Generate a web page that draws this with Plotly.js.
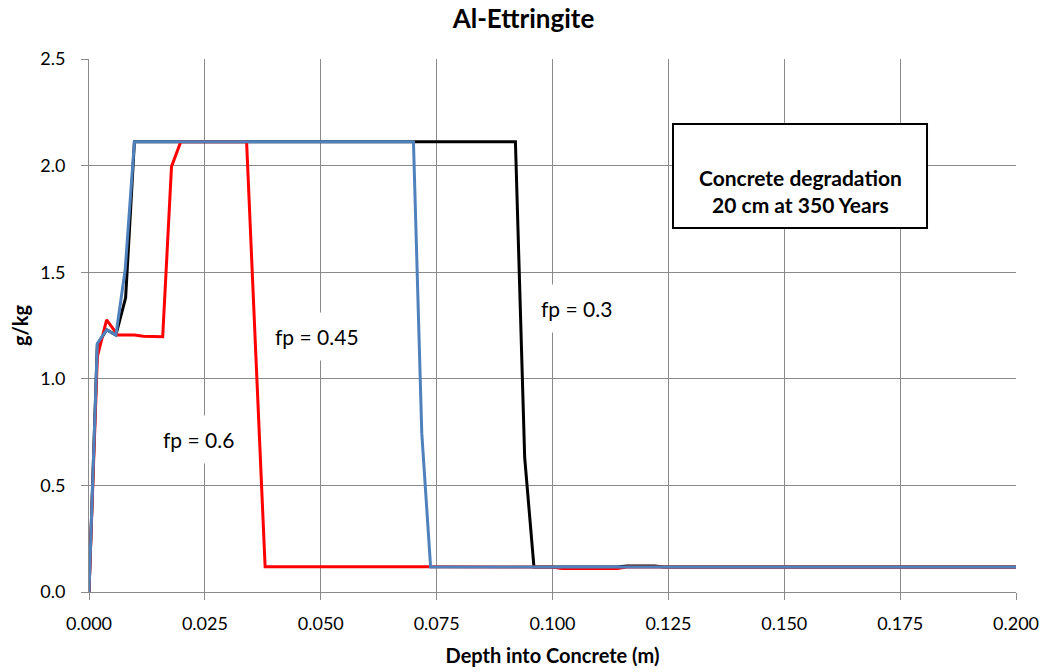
<!DOCTYPE html>
<html><head><meta charset="utf-8">
<script src="https://cdn.plot.ly/plotly-3.0.1.min.js"></script>
<style>html,body{margin:0;padding:0;background:#fff}#chart{width:1047px;height:672px}</style>
</head><body><div id="chart"></div>
<script>
// fp = 0.3
const depth03 = [0, 0.0018, 0.0038, 0.0058, 0.0079, 0.0098, 0.092, 0.094, 0.096, 0.100, 0.114, 0.116, 0.122, 0.124, 0.200];
const conc03  = [0, 1.16, 1.23, 1.205, 1.38, 2.112, 2.112, 0.63, 0.117, 0.117, 0.117, 0.122, 0.122, 0.117, 0.117];
// fp = 0.45
const depth045 = [0, 0.0018, 0.0038, 0.0058, 0.0078, 0.0098, 0.070, 0.0718, 0.0737, 0.100, 0.200];
const conc045  = [0, 1.166, 1.229, 1.205, 1.51, 2.112, 2.112, 0.744, 0.117, 0.117, 0.117];
// fp = 0.6
const depth06 = [0, 0.0018, 0.0038, 0.0062, 0.0098, 0.0117, 0.0159, 0.0178, 0.0198, 0.034, 0.036, 0.038, 0.074, 0.100, 0.102, 0.114, 0.116, 0.200];
const conc06  = [0, 1.104, 1.276, 1.205, 1.205, 1.20, 1.197, 1.995, 2.112, 2.112, 1.11, 0.118, 0.118, 0.117, 0.110, 0.110, 0.117, 0.117];

const xTicks = [0, 0.025, 0.05, 0.075, 0.1, 0.125, 0.15, 0.175, 0.2];
const xTickLabels = ["0.000","0.025","0.050","0.075","0.100","0.125","0.150","0.175","0.200"];
const yTicks = [0, 0.5, 1.0, 1.5, 2.0, 2.5];
const yTickLabels = ["0.0","0.5","1.0","1.5","2.0","2.5"];

const FONT = 'Lato, "Open Sans", sans-serif';
const traces = [
  {x: depth03, y: conc03, mode:'lines', name:'fp = 0.3', line:{color:'#000000', width:3}},
  {x: depth06, y: conc06, mode:'lines', name:'fp = 0.6', line:{color:'#FF0000', width:3}},
  {x: depth045, y: conc045, mode:'lines', name:'fp = 0.45', line:{color:'#4F81BD', width:3}}
];
const labelStyle = {showarrow:false, font:{family:FONT, size:21, color:'#000'}, bgcolor:'#ffffff', borderpad:11, xref:'x', yref:'y'};
const layout = {
  width:1047, height:672,
  margin:{l:89, r:31, t:59, b:80},
  paper_bgcolor:'#fff', plot_bgcolor:'#fff',
  showlegend:false,
  font:{family:FONT, size:18, color:'#000'},
  title:{text:'<b>Al-Ettringite</b>', x:0.5, xanchor:'center', y:0.972, yanchor:'middle', font:{family:FONT, size:26, color:'#000'}},
  xaxis:{range:[0,0.2], tickvals:xTicks, ticktext:xTickLabels, showgrid:true, gridcolor:'#8a8a8a', gridwidth:1,
    showline:true, linecolor:'#8a8a8a', linewidth:1, ticks:'outside', ticklen:7, tickcolor:'#8a8a8a', zeroline:false,
    ticklabelstandoff:8,
    tickfont:{family:FONT, size:18}, title:{text:'<b>Depth into Concrete (m)</b>', font:{family:FONT, size:20}, standoff:16}},
  yaxis:{range:[0,2.5], tickvals:yTicks, ticktext:yTickLabels, showgrid:true, gridcolor:'#8a8a8a', gridwidth:1,
    showline:true, linecolor:'#8a8a8a', linewidth:1, ticks:'outside', ticklen:7, tickcolor:'#8a8a8a', zeroline:false,
    ticklabelstandoff:12,
    tickfont:{family:FONT, size:18}, title:{text:'<b>g/kg</b>', font:{family:FONT, size:20}, standoff:6}},
  shapes:[
    {type:'rect', xref:'x', yref:'y', x0:0.1260, x1:0.1808, y0:1.707, y1:2.195, line:{color:'#000', width:2}, fillcolor:'#fff', layer:'above'}
  ],
  annotations:[
    Object.assign({x:0.1051, y:1.332, text:'fp = 0.3'}, labelStyle),
    Object.assign({x:0.0491, y:1.197, text:'fp = 0.45'}, labelStyle),
    Object.assign({x:0.0237, y:0.713, text:'fp = 0.6'}, labelStyle),
    {x:0.1534, y:1.88, xref:'x', yref:'y', showarrow:false, text:'<b>Concrete degradation<br>20 cm at 350 Years</b>',
     font:{family:FONT, size:21, color:'#000'}, align:'center'}
  ]
};
Plotly.newPlot('chart', traces, layout, {staticPlot:true});
</script></body></html>
